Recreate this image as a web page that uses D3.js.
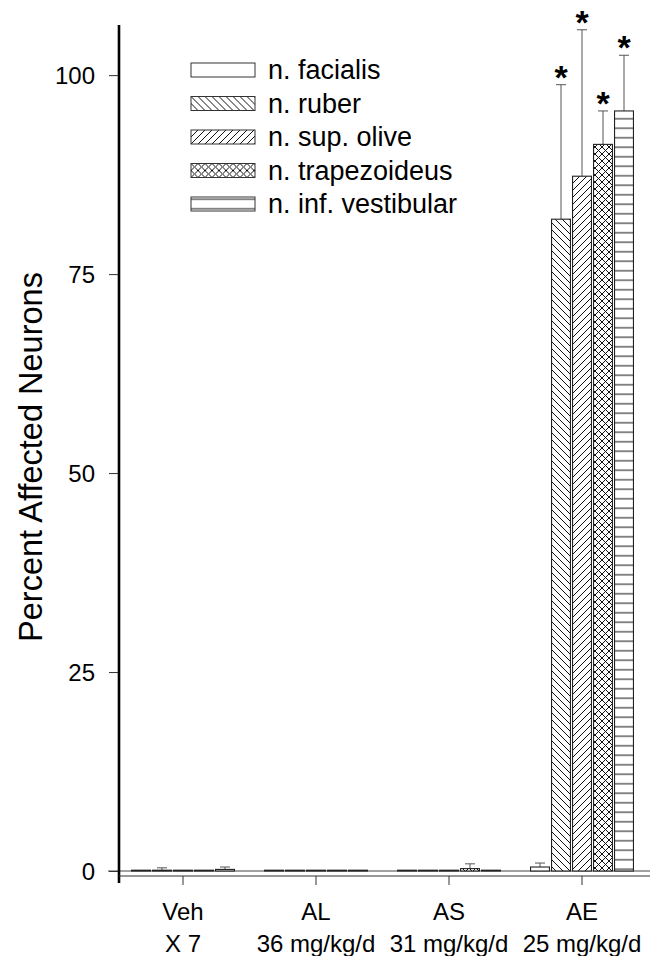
<!DOCTYPE html>
<html>
<head>
<meta charset="utf-8">
<script src="https://cdn.jsdelivr.net/npm/d3@7"></script>
<style>
    body { margin: 0; background: #fff; }
    text { font-family: "Liberation Sans", Arial, sans-serif; fill: #000; }
</style>
</head>
<body>
<div class="graph"></div>
<script>
// Treatment groups and the dose line under each
const groups = ["Veh", "AL", "AS", "AE"];
const doses = ["X 7", "36 mg/kg/d", "31 mg/kg/d", "25 mg/kg/d"];

// Nuclei (series)
const nuclei = ["n. facialis", "n. ruber", "n. sup. olive", "n. trapezoideus", "n. inf. vestibular"];

// Mean percent affected neurons, one array per nucleus (Veh, AL, AS, AE)
const facialis      = [0.1, 0.1, 0.1, 0.5];
const ruber         = [0.1, 0.1, 0.1, 81.9];
const supOlive      = [0.1, 0.1, 0.1, 87.3];
const trapezoideus  = [0.1, 0.1, 0.3, 91.3];
const infVestibular = [0.2, 0.1, 0.1, 95.5];

// Upper error (SD) for each
const facialisErr      = [0, 0, 0, 0.5];
const ruberErr         = [0.3, 0, 0, 16.9];
const supOliveErr      = [0, 0, 0, 18.4];
const trapezoideusErr  = [0, 0, 0.6, 4.2];
const infVestibularErr = [0.3, 0, 0, 7.0];

// Significance marks (true = asterisk)
const signif = [
    [false, false, false, false],
    [false, false, false, true],
    [false, false, false, true],
    [false, false, false, true],
    [false, false, false, true]
];

const yTicks = [0, 25, 50, 75, 100];

const seriesValues = [facialis, ruber, supOlive, trapezoideus, infVestibular];
const seriesErrors = [facialisErr, ruberErr, supOliveErr, trapezoideusErr, infVestibularErr];
const patterns = ["none", "back", "fwd", "cross", "horiz"];

const data = [];
groups.forEach((g, gi) => {
    nuclei.forEach((n, ni) => {
        data.push({
            group: g,
            nucleus: n,
            value: seriesValues[ni][gi],
            err: seriesErrors[ni][gi],
            star: signif[ni][gi],
            pattern: patterns[ni]
        });
    });
});

const width = 658;
const height = 956;

const svg = d3.select(".graph")
    .append("svg")
        .attr("width", width)
        .attr("height", height);

// Hatch patterns
const defs = svg.append("defs");

function hatch(id, size, lines) {
    const p = defs.append("pattern")
        .attr("id", id)
        .attr("patternUnits", "userSpaceOnUse")
        .attr("width", size)
        .attr("height", size);
    p.append("rect").attr("width", size).attr("height", size).attr("fill", "#fff");
    lines.forEach(l => {
        p.append("path")
            .attr("d", l)
            .attr("stroke", "#111")
            .attr("stroke-width", 1)
            .attr("fill", "none");
    });
}
const s = 7;
hatch("back", s, [`M0,0L${s},${s}`, `M${-s},0L0,${s}`, `M${s},0L${2 * s},${s}`]);
hatch("fwd", s, [`M0,${s}L${s},0`, `M${-s},${s}L0,0`, `M${s},${s}L${2 * s},0`]);
hatch("cross", s, [`M0,0L${s},${s}`, `M0,${s}L${s},0`]);
hatch("horiz", 9.5, ["M0,4.75L9.5,4.75"]);

function fillFor(p) {
    return p === "none" ? "#fff" : `url(#${p})`;
}

// Scales
const yScale = d3.scaleLinear()
    .domain([0, 106.3])
    .range([871, 25]);

const xScale = d3.scaleBand()
    .domain(groups)
    .range([116.5, 648.5])
    .padding(0);

const xSub = d3.scaleBand()
    .domain(nuclei)
    .range([0, 105])
    .paddingInner(0.1)
    .paddingOuter(0.05);

const groupOffset = (xScale.bandwidth() - 105) / 2;
const barX = d => xScale(d.group) + groupOffset + xSub(d.nucleus);
const barMid = d => barX(d) + xSub.bandwidth() / 2;

// Zero line
svg.append("line")
    .attr("x1", 108).attr("x2", 650)
    .attr("y1", yScale(0)).attr("y2", yScale(0))
    .attr("stroke", "#444")
    .attr("stroke-width", 1);

// Error bars (upper only)
const eb = svg.append("g")
    .attr("stroke", "#555")
    .attr("stroke-width", 1)
    .selectAll("g")
    .data(data.filter(d => d.err > 0))
    .join("g");

eb.append("line")
    .attr("x1", barMid).attr("x2", barMid)
    .attr("y1", d => yScale(d.value))
    .attr("y2", d => yScale(d.value + d.err));

eb.append("line")
    .attr("x1", d => barMid(d) - 5).attr("x2", d => barMid(d) + 5)
    .attr("y1", d => yScale(d.value + d.err))
    .attr("y2", d => yScale(d.value + d.err));

// Bars
svg.append("g")
    .selectAll("rect")
    .data(data)
    .join("rect")
        .attr("x", barX)
        .attr("y", d => yScale(d.value))
        .attr("width", xSub.bandwidth())
        .attr("height", d => yScale(0) - yScale(d.value))
        .attr("fill", d => fillFor(d.pattern))
        .attr("stroke", "#222")
        .attr("stroke-width", 1.1);

// Asterisks
svg.append("g")
    .selectAll("text")
    .data(data.filter(d => d.star))
    .join("text")
        .attr("x", barMid)
        .attr("y", d => yScale(d.value + d.err) + 4)
        .attr("text-anchor", "middle")
        .style("font-size", "34px")
        .style("font-weight", "bold")
        .text("*");

// Y axis
const yAxis = svg.append("g")
    .attr("transform", "translate(119,0)")
    .call(d3.axisLeft(yScale)
        .tickValues(yTicks)
        .tickSize(10)
        .tickPadding(14));
yAxis.select(".domain").remove();
yAxis.selectAll("text").style("font-size", "24px").attr("dy", "0.36em");
yAxis.selectAll("line").attr("stroke", "#333");

svg.append("line")
    .attr("x1", 119).attr("x2", 119)
    .attr("y1", yScale(106.3)).attr("y2", 883)
    .attr("stroke", "#000")
    .attr("stroke-width", 2.6);

// X axis
const xAxis = svg.append("g")
    .attr("transform", "translate(0,876)")
    .call(d3.axisBottom(xScale)
        .tickSize(9)
        .tickPadding(20));
xAxis.select(".domain")
    .attr("d", "M119,0H650")
    .attr("stroke", "#333");
xAxis.selectAll("line").attr("stroke", "#333");
xAxis.selectAll("text")
    .style("font-size", "24px")
    .attr("dy", null)
    .attr("y", 44);

svg.append("g")
    .selectAll("text")
    .data(groups)
    .join("text")
        .attr("x", d => xScale(d) + xScale.bandwidth() / 2)
        .attr("y", 952)
        .attr("text-anchor", "middle")
        .style("font-size", "24px")
        .text((d, i) => doses[i]);

// Y title
svg.append("text")
    .attr("transform", "translate(42,457) rotate(-90)")
    .attr("text-anchor", "middle")
    .style("font-size", "32.5px")
    .text("Percent Affected Neurons");

// Legend
const legend = svg.append("g")
    .selectAll("g")
    .data(nuclei)
    .join("g")
        .attr("transform", (d, i) => `translate(191,${70 + i * 33.5})`);

legend.append("rect")
    .attr("x", 0).attr("y", -7)
    .attr("width", 64).attr("height", 14)
    .attr("fill", (d, i) => fillFor(patterns[i]))
    .attr("stroke", "#333")
    .attr("stroke-width", 1);

legend.append("text")
    .attr("x", 77)
    .attr("y", 9)
    .style("font-size", "27px")
    .text(d => d);
</script>
</body>
</html>
